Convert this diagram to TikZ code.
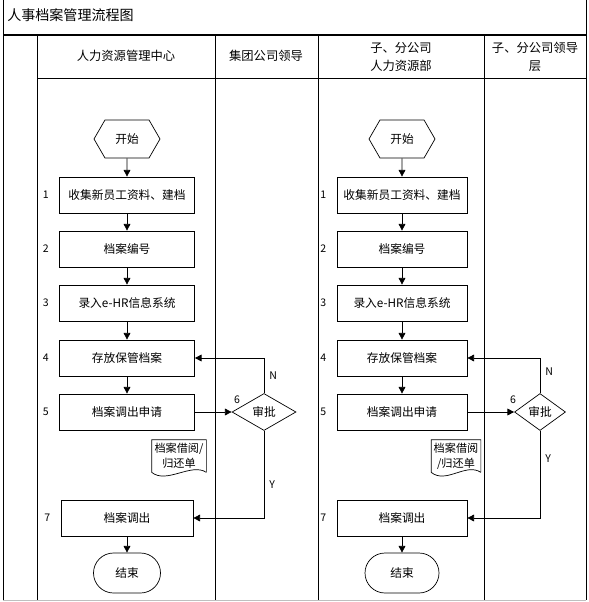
\documentclass[tikz,border=0pt]{standalone}
\usepackage{fontspec}
\setmainfont{Noto Sans CJK SC}
\usetikzlibrary{positioning, shapes.geometric, shapes.symbols, arrows.meta}

\begin{document}
\begin{tikzpicture}[x=0.3mm, y=-0.3mm, line width=0.6pt,
  every node/.style={font=\fontsize{10}{12}\selectfont},
  box/.style={draw, rectangle, minimum width=40.5mm, minimum height=10.8mm, inner sep=1pt},
  startnode/.style={draw, signal, signal to=east and west, signal pointer angle=120,
    minimum width=19.8mm, minimum height=11.4mm, inner sep=0pt},
  endnode/.style={draw, rectangle, rounded corners=6mm, minimum width=20.1mm, minimum height=12mm},
  check/.style={draw, diamond, aspect=1.7, inner sep=0pt, minimum width=19.2mm, minimum height=11.1mm},
  doc/.style={rectangle, align=center, inner sep=0pt, minimum height=9.6mm,
    font=\fontsize{9.5}{13}\selectfont},
  head/.style={align=center, font=\fontsize{10.5}{15}\selectfont},
  numlbl/.style={inner sep=0pt, font=\fontsize{9}{10}\selectfont},
  flow/.style={-{Triangle[length=2mm,width=2mm]}}
]
\useasboundingbox (0,0) rectangle (588,602);

% frame and lanes
\draw (3,0) -- (3,600);
\draw (586,0) -- (586,600);
\draw[line width=1.2pt] (3,35) -- (586,35);
\draw (37,78) -- (586,78);
\foreach \x in {37,215,318,484} \draw (\x,35) -- (\x,600);
\draw[gray!50] (3,600) -- (586,600);

\node[anchor=west, font=\fontsize{12}{14}\selectfont] (title) at (3,15) {人事档案管理流程图};

\node[head] (hHR) at (126,56) {人力资源管理中心};
\node[head] (hGroup) at (266,56) {集团公司领导};
\node[head] (hSubHR) at (401,57) {子、分公司\\人力资源部};
\node[head] (hSubLead) at (535,57) {子、分公司领导\\层};

% left lane: HR centre
\node[startnode] (startL) at (127,139) {开始};
\node[box] (b1L) at (127,195) {收集新员工资料、建档};
\node[box] (b2L) at (127,249) {档案编号};
\node[box] (b3L) at (127,303) {录入e-HR信息系统};
\node[box] (b4L) at (127,358) {存放保管档案};
\node[box] (b5L) at (127,412) {档案调出申请};
\node[box, minimum width=39.6mm] (b7L) at (127,518) {档案调出};
\node[endnode] (endL) at (127,573) {结束};
\node[check] (chkL) at (264,412) {审批};
\node[doc, minimum width=16.2mm] (docL) at (179,456) {档案借阅/\\归还单};
\draw (docL.south east) -- (docL.north east) -- (docL.north west) -- (docL.south west)
  .. controls +(15,12) and +(-15,-10) .. (docL.south east);

\node[numlbl, left=3mm of b1L] (n1L) {1};
\node[numlbl, left=3mm of b2L] (n2L) {2};
\node[numlbl, left=3mm of b3L] (n3L) {3};
\node[numlbl, left=3mm of b4L] (n4L) {4};
\node[numlbl, left=3mm of b5L] (n5L) {5};
\node[numlbl, left=3mm of b7L] (n7L) {7};
\node[numlbl] (n6L) at (237,400) {6};

\foreach \a/\b in {startL/b1L, b1L/b2L, b2L/b3L, b3L/b4L, b4L/b5L, b7L/endL}
  \draw[flow] (\a) -- (\b);
\draw[flow] (b5L) -- (chkL);
\draw[flow] (chkL.north) |- (b4L.east) node[numlbl, pos=0.25, right=1.5mm] {N};
\draw[flow] (chkL.south) |- (b7L.east) node[numlbl, pos=0.31, right=1.5mm] {Y};

% right lane: subsidiary HR
\node[startnode] (startR) at (402,139) {开始};
\node[box, minimum width=39mm] (b1R) at (402,195) {收集新员工资料、建档};
\node[box, minimum width=39mm] (b2R) at (402,249) {档案编号};
\node[box, minimum width=39mm] (b3R) at (402,303) {录入e-HR信息系统};
\node[box, minimum width=39mm] (b4R) at (402,358) {存放保管档案};
\node[box, minimum width=39mm] (b5R) at (402,412) {档案调出申请};
\node[box, minimum width=39mm] (b7R) at (402,518) {档案调出};
\node[endnode, minimum width=22.2mm] (endR) at (402,573) {结束};
\node[check, minimum width=15.3mm] (chkR) at (540,412) {审批};
\node[doc, minimum width=14.7mm] (docR) at (456,456) {档案借阅\\/归还单};
\draw (docR.south east) -- (docR.north east) -- (docR.north west) -- (docR.south west)
  .. controls +(15,12) and +(-15,-10) .. (docR.south east);

\node[numlbl, left=3mm of b1R] (n1R) {1};
\node[numlbl, left=3mm of b2R] (n2R) {2};
\node[numlbl, left=3mm of b3R] (n3R) {3};
\node[numlbl, left=3mm of b4R] (n4R) {4};
\node[numlbl, left=3mm of b5R] (n5R) {5};
\node[numlbl, left=3mm of b7R] (n7R) {7};
\node[numlbl] (n6R) at (513,400) {6};

\foreach \a/\b in {startR/b1R, b1R/b2R, b2R/b3R, b3R/b4R, b4R/b5R, b7R/endR}
  \draw[flow] (\a) -- (\b);
\draw[flow] (b5R) -- (chkR);
\draw[flow] (chkR.north) |- (b4R.east) node[numlbl, pos=0.3, right=1.5mm] {N};
\draw[flow] (chkR.south) |- (b7R.east) node[numlbl, pos=0.16, right=1.5mm] {Y};
\end{tikzpicture}
\end{document}
